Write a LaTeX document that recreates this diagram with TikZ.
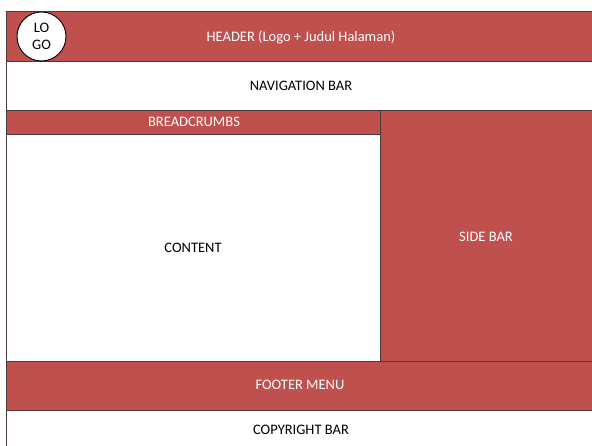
\documentclass[tikz,border=0pt]{standalone}
\usepackage{fontspec}
\setmainfont{Carlito}
\definecolor{barred}{HTML}{C0504D}
\definecolor{edge}{HTML}{4A3A3A}
\begin{document}
\begin{tikzpicture}[x=1pt,y=-1pt,
  redbox/.style={fill=barred,draw=edge,line width=0.8pt},
  whitebox/.style={fill=white,draw=edge,line width=0.8pt},
  lbl/.style={font=\fontsize{14.5}{17}\selectfont,text=black},
  wlbl/.style={font=\fontsize{14.5}{17}\selectfont,text=white}]
\useasboundingbox[fill=white] (0,0) rectangle (592,446);
% page regions
\draw[redbox] (6.5,11) rectangle (595,61);
\draw[whitebox] (6.5,61) rectangle (595,110);
\draw[redbox] (380,110) rectangle (595,361);
\draw[redbox] (6.5,110) rectangle (380,134);
\draw[whitebox] (6.5,134) rectangle (380,361);
\draw[redbox] (6.5,361) rectangle (595,410);
\draw[whitebox] (6.5,410) rectangle (595,450);
% labels
\node[wlbl] (header) at (301,37) {HEADER (Logo + Judul Halaman)};
\node[circle,fill=white,draw=black,line width=0.9pt,minimum size=49pt,inner sep=0pt,
      align=center,font=\fontsize{14.5}{17}\selectfont] (logo) at (41.5,36.5) {LO\\GO};
\node[lbl] (nav) at (301,86) {NAVIGATION BAR};
\node[wlbl] (crumbs) at (194,122) {BREADCRUMBS};
\node[lbl] (content) at (193,248) {CONTENT};
\node[wlbl] (side) at (486,237) {SIDE BAR};
\node[wlbl] (footer) at (300,385) {FOOTER MENU};
\node[lbl] (copy) at (301,430) {COPYRIGHT BAR};
\end{tikzpicture}
\end{document}
